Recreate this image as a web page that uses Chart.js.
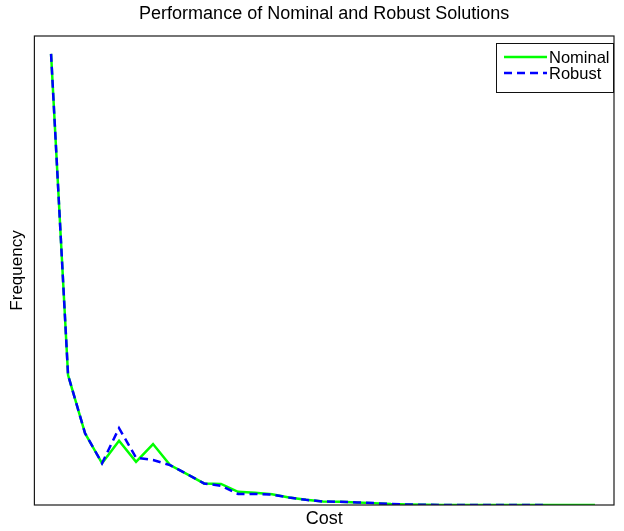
<!DOCTYPE html>
<html>
<head>
<meta charset="utf-8">
<title>Performance of Nominal and Robust Solutions</title>
<script src="https://cdn.jsdelivr.net/npm/chart.js@4/dist/chart.umd.min.js"></script>
<style>
  body { margin: 0; background: #fff; }
  canvas { display: block; }
</style>
</head>
<body>
<canvas id="grafico" width="624" height="531"></canvas>
<script>
// cost bins (x) and how often each cost shows up for both solutions
const costBins = [1, 2, 3, 4, 5, 6, 7, 8, 9, 10, 11, 12, 13, 14, 15, 16, 17,
  18, 19, 20, 21, 22, 23, 24, 25, 26, 27, 28, 29, 30, 31, 32, 33];

const frecNominal = [962, 277, 153, 89, 137, 92, 130, 85, 66, 46, 45, 28, 26,
  23, 16, 11, 7.5, 7, 5.5, 4, 2, 1, 0.5, 0, 0, 0, 0, 0, 0, 0, 0, 0, 0];

const frecRobusta = [962, 277, 153, 89, 164, 101, 96, 85, 66, 46, 41, 23.5, 23.5,
  22, 16, 11, 7.5, 7, 5.5, 4, 2, 1, 0.5, 0, 0, 0, 0, 0, 0, 0];

const fuente = "'Liberation Sans', Arial, Helvetica, sans-serif";

const aPuntos = (valores) => valores.map((v, i) => ({ x: costBins[i], y: v }));

// caja alrededor del area del grafico (estilo matlab)
const cajaEjes = {
  id: 'cajaEjes',
  afterDatasetsDraw(chart) {
    const { ctx, chartArea: a } = chart;
    ctx.save();
    ctx.strokeStyle = '#1a1a1a';
    ctx.lineWidth = 1.2;
    ctx.strokeRect(a.left, a.top, a.right - a.left, a.bottom - a.top);
    ctx.restore();
  }
};

// leyenda dentro del grafico, arriba a la derecha
const leyendaInterna = {
  id: 'leyendaInterna',
  afterDraw(chart) {
    const { ctx, chartArea: a } = chart;
    const sets = chart.data.datasets;
    const ancho = 117, alto = 49;
    const x0 = a.right - ancho - 1, y0 = a.top + 7;
    ctx.save();
    ctx.fillStyle = '#fff';
    ctx.fillRect(x0, y0, ancho, alto);
    ctx.strokeStyle = '#111';
    ctx.lineWidth = 1;
    ctx.strokeRect(x0 + 0.5, y0 + 0.5, ancho, alto);
    ctx.font = '16.5px ' + fuente;
    ctx.textBaseline = 'middle';
    sets.forEach((ds, i) => {
      const y = y0 + 14 + i * 16;
      ctx.strokeStyle = ds.borderColor;
      ctx.lineWidth = ds.borderWidth;
      ctx.setLineDash(ds.borderDash || []);
      ctx.beginPath();
      ctx.moveTo(x0 + 8, y);
      ctx.lineTo(x0 + 51, y);
      ctx.stroke();
      ctx.setLineDash([]);
      ctx.fillStyle = '#000';
      ctx.fillText(ds.label, x0 + 53, y + 1);
    });
    ctx.restore();
  }
};

const ctx = document.getElementById('grafico').getContext('2d');

const myChart = new Chart(ctx, {
  type: 'line',
  data: {
    datasets: [
      {
        label: 'Nominal',
        data: aPuntos(frecNominal),
        borderColor: '#00ff00',
        borderWidth: 2.5,
        pointRadius: 0,
        tension: 0,
        order: 1
      },
      {
        label: 'Robust',
        data: aPuntos(frecRobusta),
        borderColor: '#0000ff',
        borderWidth: 2.5,
        borderDash: [8, 5],
        pointRadius: 0,
        tension: 0,
        order: 0
      }
    ]
  },
  options: {
    responsive: false,
    animation: false,
    devicePixelRatio: 1,
    layout: { padding: { left: 0, right: 10, top: 0, bottom: 0 } },
    plugins: {
      legend: { display: false },
      tooltip: { enabled: false },
      title: { display: false }
    },
    scales: {
      x: {
        type: 'linear',
        min: 0.02,
        max: 34.12,
        grid: { display: false, drawTicks: false },
        border: { display: false },
        ticks: { display: false },
        title: {
          display: true,
          text: 'Cost',
          color: '#000',
          font: { family: fuente, size: 18 },
          padding: { top: 3.2, bottom: 1.2 }
        }
      },
      // eje de arriba solo para centrar el titulo sobre los ejes
      arriba: {
        type: 'linear',
        position: 'top',
        axis: 'x',
        min: 0.02,
        max: 34.12,
        grid: { display: false, drawTicks: false },
        border: { display: false },
        ticks: { display: false },
        title: {
          display: true,
          text: 'Performance of Nominal and Robust Solutions',
          color: '#000',
          font: { family: fuente, size: 18 },
          padding: { top: 3.2, bottom: 11.2 }
        }
      },
      y: {
        min: 0,
        max: 1000,
        grid: { display: false, drawTicks: false },
        border: { display: false },
        ticks: { display: false },
        title: {
          display: true,
          text: 'Frequency',
          color: '#000',
          font: { family: fuente, size: 17 },
          padding: { top: 7.6, bottom: 6.4 }
        }
      }
    }
  },
  plugins: [cajaEjes, leyendaInterna]
});
</script>
</body>
</html>
